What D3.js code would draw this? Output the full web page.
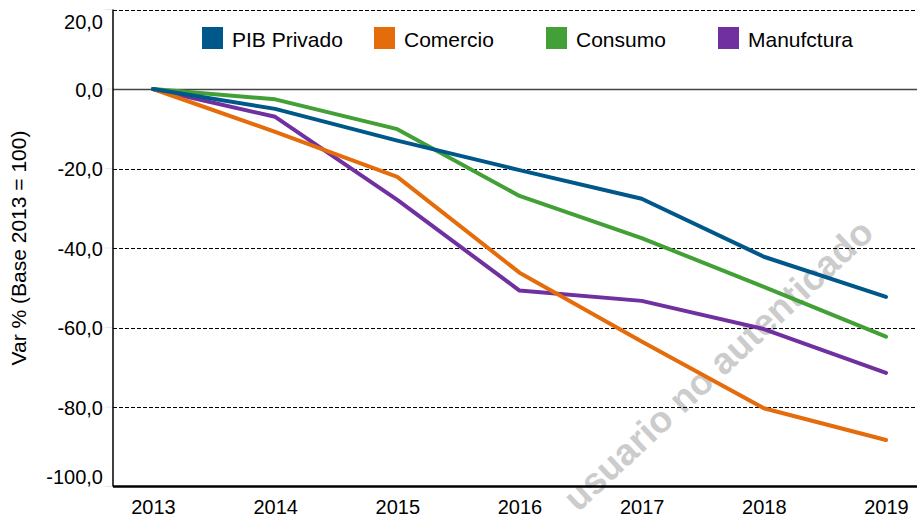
<!DOCTYPE html>
<html><head><meta charset="utf-8">
<script src="https://cdn.jsdelivr.net/npm/d3@7"></script>
<style>body{margin:0;background:#fff}svg{display:block;font-family:"Liberation Sans",Arial,sans-serif}</style>
</head><body><svg id="c" width="917" height="519"></svg>
<script>
const years = [2013, 2014, 2015, 2016, 2017, 2018, 2019];
const pibPrivado = [0, -5.0, -13.0, -20.4, -27.6, -42.2, -52.3];
const comercio = [0, -10.8, -22.1, -46.2, -63.5, -80.3, -88.3];
const consumo = [0, -2.6, -10.1, -26.9, -37.5, -49.8, -62.3];
const manufctura = [0, -7.0, -27.9, -50.7, -53.3, -60.4, -71.4];
const seriesNames = ["PIB Privado", "Comercio", "Consumo", "Manufctura"];
const seriesColors = ["#00578A", "#E46C0A", "#43A036", "#7030A0"];
const yTicks = [20, 0, -20, -40, -60, -80, -100];
const yTitle = "Var % (Base 2013 = 100)";
const watermark = "usuario no autenticado";

const seriesData = [pibPrivado, comercio, consumo, manufctura];
const svg = d3.select("#c");
const x = d3.scaleLinear().domain([2013, 2019]).range([153, 886]);
const y = d3.scaleLinear().domain([-100, 20]).range([486.5, 9.5]);
const left = 113, right = 917;
const fmt = v => d3.format(".1f")(v).replace(".", ",").replace("−", "-");
const FONT = "Liberation Sans, Arial, sans-serif";

// faint tick marks
svg.append("g").selectAll("line").data(yTicks).join("line")
  .attr("x1", left - 8).attr("x2", left).attr("y1", d => y(d)).attr("y2", d => y(d))
  .attr("stroke", "#e8e8e8").attr("stroke-width", 1);

// watermark
svg.append("text").attr("transform", "translate(578,513) rotate(-43)")
  .attr("font-size", 37).attr("font-weight", "bold").attr("fill", "#c4c4c4").attr("opacity", 0.85)
  .attr("font-family", FONT).text(watermark);

// gridlines
svg.append("g").selectAll("line").data(yTicks.filter(d => d !== 0 && d !== -100)).join("line")
  .attr("x1", left).attr("x2", right).attr("y1", d => Math.round(y(d)) + 0.5).attr("y2", d => Math.round(y(d)) + 0.5)
  .attr("stroke", "#000").attr("stroke-width", 1).attr("stroke-dasharray", "4,2");
svg.append("line").attr("x1", left).attr("x2", right).attr("y1", Math.round(y(0)) + 0.5).attr("y2", Math.round(y(0)) + 0.5)
  .attr("stroke", "#444").attr("stroke-width", 1.3);

// y labels
const yAxis = d3.axisLeft(y).tickValues(yTicks).tickFormat(fmt).tickSize(0).tickPadding(10);
const ga = svg.append("g").attr("transform", `translate(${left},0)`).call(yAxis);
ga.select(".domain").remove();
ga.selectAll("text").attr("font-size", 20).attr("fill", "#000").attr("font-family", FONT)
  .attr("dy", d => d === 20 ? "0.95em" : (d === -100 ? "-0.15em" : "0.35em"));

// x labels
const xAxis = d3.axisBottom(x).tickValues(years).tickFormat(d3.format("d")).tickSize(0).tickPadding(13.5);
const gx = svg.append("g").attr("transform", `translate(0,${y(-100)})`).call(xAxis);
gx.select(".domain").remove();
gx.selectAll("text").attr("font-size", 20).attr("fill", "#000").attr("font-family", FONT);

// axes lines
svg.append("line").attr("x1", left).attr("x2", left).attr("y1", y(20)).attr("y2", y(-100))
  .attr("stroke", "#000").attr("stroke-width", 1.5);
svg.append("line").attr("x1", left).attr("x2", right).attr("y1", y(-100)).attr("y2", y(-100))
  .attr("stroke", "#000").attr("stroke-width", 2.5);

// y title
svg.append("text").attr("transform", `translate(26,${y(-40)}) rotate(-90)`)
  .attr("text-anchor", "middle").attr("font-size", 21).attr("fill", "#000").attr("font-family", FONT).text(yTitle);

// lines
const line = d3.line().x((d, i) => x(years[i])).y(d => y(d));
const order = [3, 1, 2, 0];
svg.append("g").selectAll("path").data(order).join("path")
  .attr("d", k => line(seriesData[k]))
  .attr("fill", "none").attr("stroke", k => seriesColors[k]).attr("stroke-width", 4)
  .attr("stroke-linejoin", "round").attr("stroke-linecap", "round");

// legend
const lg = svg.append("g");
const lx = [202, 374, 546, 718];
seriesNames.forEach((n, i) => {
  lg.append("rect").attr("x", lx[i]).attr("y", 27).attr("width", 21).attr("height", 22).attr("fill", seriesColors[i]);
  lg.append("text").attr("x", lx[i] + 30).attr("y", 46.5).attr("font-size", 21).attr("fill", "#000").attr("font-family", FONT).text(n);
});
</script></body></html>
